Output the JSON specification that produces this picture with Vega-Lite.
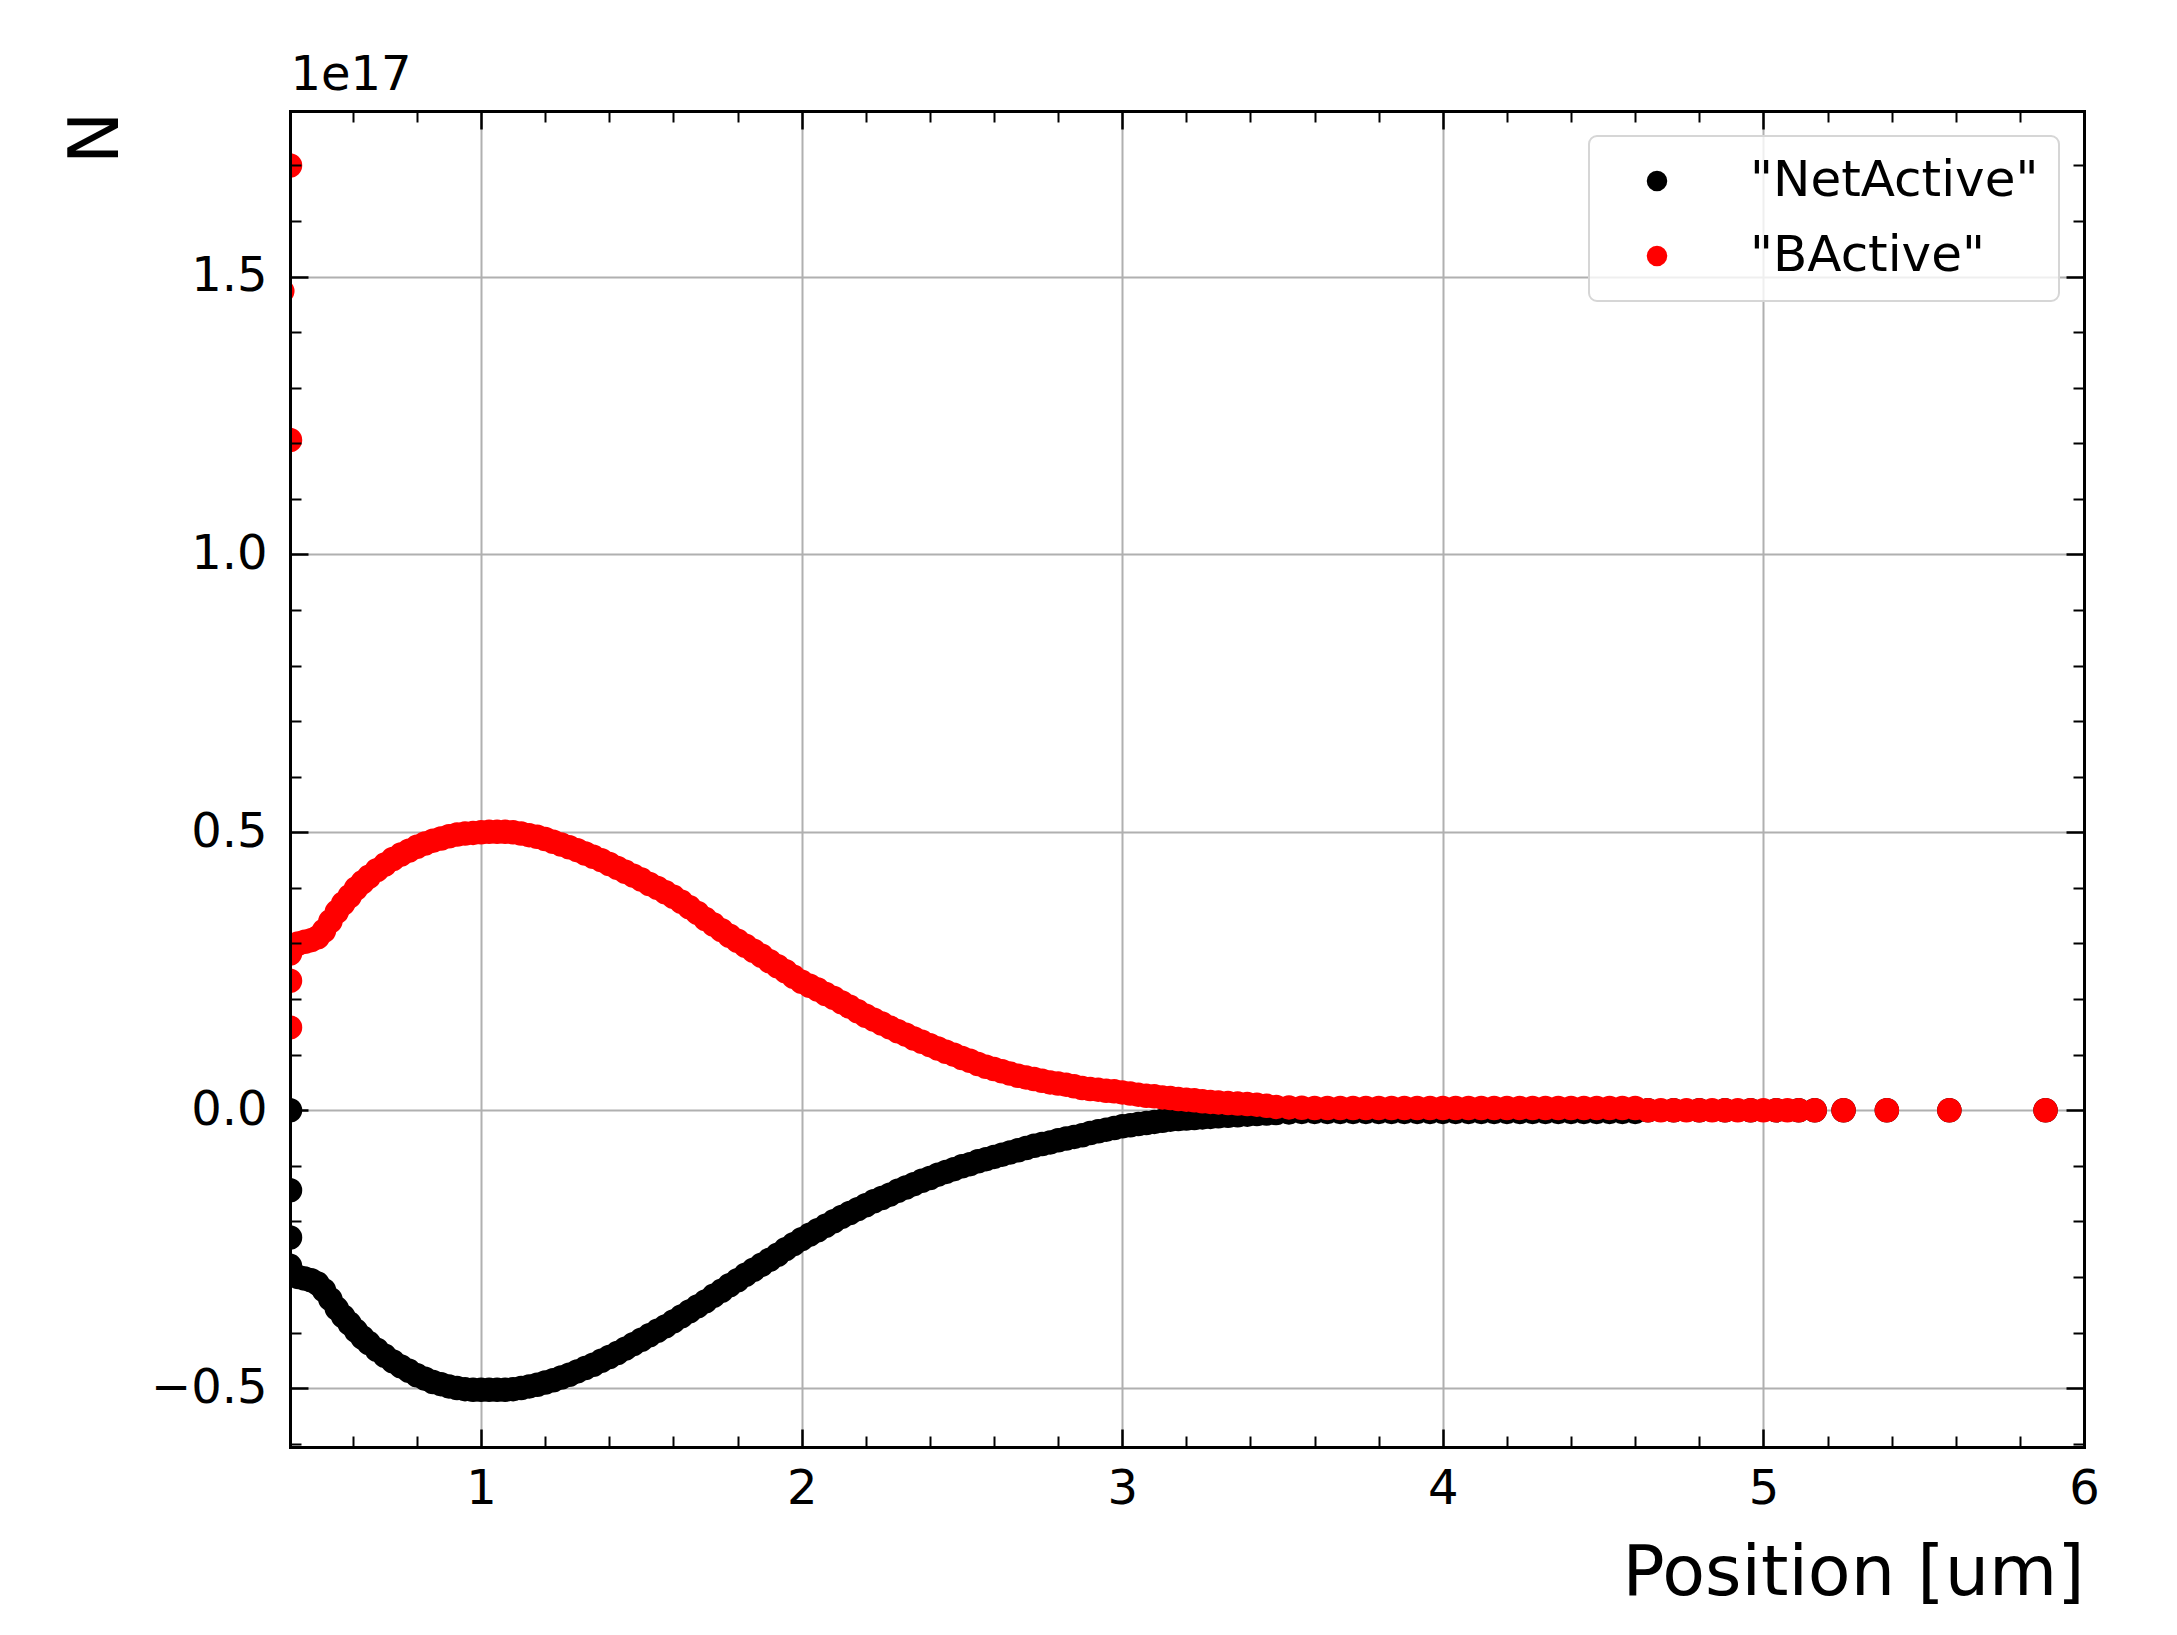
{
  "$schema": "https://vega.github.io/schema/vega-lite/v6.json",
  "width": 1794,
  "height": 1336,
  "autosize": {"type": "none"},
  "padding": {"left": 290, "top": 111, "right": 93, "bottom": 188},
  "background": "white",
  "config": {
    "view": {"stroke": null},
    "font": "DejaVu Sans",
    "axis": {
      "labelFont": "DejaVu Sans", "titleFont": "DejaVu Sans",
      "tickColor": "black", "domainColor": "black", "labelColor": "black", "titleColor": "black",
      "titleFontWeight": "normal", "gridColor": "#b0b0b0", "gridWidth": 2, "gridOpacity": 1,
      "domainWidth": 3, "domainCap": "square", "labelFlush": false, "labelOverlap": false,
      "minExtent": 0, "maxExtent": 400
    },
    "legend": {
      "orient": "top-right", "offset": 25, "fillColor": "rgba(255,255,255,0.8)",
      "strokeColor": "#d6d6d6", "strokeWidth": 2, "cornerRadius": 8, "padding": 20,
      "symbolType": "circle", "symbolSize": 420, "symbolStrokeWidth": 0, "symbolOffset": 23,
      "labelOffset": 68, "labelFont": "DejaVu Sans", "labelFontSize": 50, "labelColor": "black",
      "labelLimit": 600, "rowPadding": 25
    }
  },
  "resolve": {"axis": {"x": "independent", "y": "independent"}},
  "layer": [
    {
      "data": {"values": [
        {"pos":0.404,"N":0,"series":"NetActive"},
        {"pos":0.404,"N":-1.44e16,"series":"NetActive"},
        {"pos":0.404,"N":-2.29e16,"series":"NetActive"},
        {"pos":0.404,"N":-2.80e16,"series":"NetActive"},
        {"pos":0.41,"N":-2.93e16,"series":"NetActive"},
        {"pos":0.43,"N":-3.00e16,"series":"NetActive"},
        {"pos":0.45,"N":-3.03e16,"series":"NetActive"},
        {"pos":0.47,"N":-3.06e16,"series":"NetActive"},
        {"pos":0.49,"N":-3.12e16,"series":"NetActive"},
        {"pos":0.51,"N":-3.24e16,"series":"NetActive"},
        {"pos":0.53,"N":-3.40e16,"series":"NetActive"},
        {"pos":0.55,"N":-3.57e16,"series":"NetActive"},
        {"pos":0.57,"N":-3.71e16,"series":"NetActive"},
        {"pos":0.59,"N":-3.84e16,"series":"NetActive"},
        {"pos":0.61,"N":-3.97e16,"series":"NetActive"},
        {"pos":0.63,"N":-4.09e16,"series":"NetActive"},
        {"pos":0.65,"N":-4.19e16,"series":"NetActive"},
        {"pos":0.675,"N":-4.31e16,"series":"NetActive"},
        {"pos":0.70,"N":-4.42e16,"series":"NetActive"},
        {"pos":0.725,"N":-4.52e16,"series":"NetActive"},
        {"pos":0.75,"N":-4.61e16,"series":"NetActive"},
        {"pos":0.775,"N":-4.69e16,"series":"NetActive"},
        {"pos":0.80,"N":-4.77e16,"series":"NetActive"},
        {"pos":0.825,"N":-4.83e16,"series":"NetActive"},
        {"pos":0.85,"N":-4.89e16,"series":"NetActive"},
        {"pos":0.875,"N":-4.93e16,"series":"NetActive"},
        {"pos":0.90,"N":-4.97e16,"series":"NetActive"},
        {"pos":0.925,"N":-5.00e16,"series":"NetActive"},
        {"pos":0.95,"N":-5.02e16,"series":"NetActive"},
        {"pos":0.975,"N":-5.03e16,"series":"NetActive"},
        {"pos":1.0,"N":-5.03e16,"series":"NetActive"},
        {"pos":1.025,"N":-5.03e16,"series":"NetActive"},
        {"pos":1.05,"N":-5.03e16,"series":"NetActive"},
        {"pos":1.075,"N":-5.03e16,"series":"NetActive"},
        {"pos":1.10,"N":-5.02e16,"series":"NetActive"},
        {"pos":1.125,"N":-5.00e16,"series":"NetActive"},
        {"pos":1.15,"N":-4.97e16,"series":"NetActive"},
        {"pos":1.175,"N":-4.94e16,"series":"NetActive"},
        {"pos":1.20,"N":-4.90e16,"series":"NetActive"},
        {"pos":1.225,"N":-4.86e16,"series":"NetActive"},
        {"pos":1.25,"N":-4.81e16,"series":"NetActive"},
        {"pos":1.275,"N":-4.76e16,"series":"NetActive"},
        {"pos":1.30,"N":-4.70e16,"series":"NetActive"},
        {"pos":1.325,"N":-4.64e16,"series":"NetActive"},
        {"pos":1.35,"N":-4.58e16,"series":"NetActive"},
        {"pos":1.375,"N":-4.51e16,"series":"NetActive"},
        {"pos":1.40,"N":-4.44e16,"series":"NetActive"},
        {"pos":1.425,"N":-4.37e16,"series":"NetActive"},
        {"pos":1.45,"N":-4.29e16,"series":"NetActive"},
        {"pos":1.475,"N":-4.21e16,"series":"NetActive"},
        {"pos":1.50,"N":-4.13e16,"series":"NetActive"},
        {"pos":1.525,"N":-4.05e16,"series":"NetActive"},
        {"pos":1.55,"N":-3.97e16,"series":"NetActive"},
        {"pos":1.575,"N":-3.89e16,"series":"NetActive"},
        {"pos":1.60,"N":-3.80e16,"series":"NetActive"},
        {"pos":1.625,"N":-3.71e16,"series":"NetActive"},
        {"pos":1.65,"N":-3.62e16,"series":"NetActive"},
        {"pos":1.675,"N":-3.53e16,"series":"NetActive"},
        {"pos":1.70,"N":-3.44e16,"series":"NetActive"},
        {"pos":1.725,"N":-3.34e16,"series":"NetActive"},
        {"pos":1.75,"N":-3.25e16,"series":"NetActive"},
        {"pos":1.775,"N":-3.15e16,"series":"NetActive"},
        {"pos":1.80,"N":-3.06e16,"series":"NetActive"},
        {"pos":1.825,"N":-2.96e16,"series":"NetActive"},
        {"pos":1.85,"N":-2.87e16,"series":"NetActive"},
        {"pos":1.875,"N":-2.78e16,"series":"NetActive"},
        {"pos":1.90,"N":-2.69e16,"series":"NetActive"},
        {"pos":1.925,"N":-2.60e16,"series":"NetActive"},
        {"pos":1.95,"N":-2.50e16,"series":"NetActive"},
        {"pos":1.975,"N":-2.41e16,"series":"NetActive"},
        {"pos":2.0,"N":-2.32e16,"series":"NetActive"},
        {"pos":2.025,"N":-2.24e16,"series":"NetActive"},
        {"pos":2.05,"N":-2.16e16,"series":"NetActive"},
        {"pos":2.075,"N":-2.08e16,"series":"NetActive"},
        {"pos":2.10,"N":-2.00e16,"series":"NetActive"},
        {"pos":2.125,"N":-1.92e16,"series":"NetActive"},
        {"pos":2.15,"N":-1.85e16,"series":"NetActive"},
        {"pos":2.175,"N":-1.78e16,"series":"NetActive"},
        {"pos":2.20,"N":-1.71e16,"series":"NetActive"},
        {"pos":2.225,"N":-1.64e16,"series":"NetActive"},
        {"pos":2.25,"N":-1.58e16,"series":"NetActive"},
        {"pos":2.275,"N":-1.52e16,"series":"NetActive"},
        {"pos":2.30,"N":-1.45e16,"series":"NetActive"},
        {"pos":2.325,"N":-1.39e16,"series":"NetActive"},
        {"pos":2.35,"N":-1.33e16,"series":"NetActive"},
        {"pos":2.375,"N":-1.27e16,"series":"NetActive"},
        {"pos":2.40,"N":-1.22e16,"series":"NetActive"},
        {"pos":2.425,"N":-1.16e16,"series":"NetActive"},
        {"pos":2.45,"N":-1.11e16,"series":"NetActive"},
        {"pos":2.475,"N":-1.06e16,"series":"NetActive"},
        {"pos":2.50,"N":-1.01e16,"series":"NetActive"},
        {"pos":2.525,"N":-9.7e15,"series":"NetActive"},
        {"pos":2.55,"N":-9.2e15,"series":"NetActive"},
        {"pos":2.575,"N":-8.8e15,"series":"NetActive"},
        {"pos":2.60,"N":-8.4e15,"series":"NetActive"},
        {"pos":2.625,"N":-8.0e15,"series":"NetActive"},
        {"pos":2.65,"N":-7.6e15,"series":"NetActive"},
        {"pos":2.675,"N":-7.2e15,"series":"NetActive"},
        {"pos":2.70,"N":-6.8e15,"series":"NetActive"},
        {"pos":2.725,"N":-6.4e15,"series":"NetActive"},
        {"pos":2.75,"N":-6.1e15,"series":"NetActive"},
        {"pos":2.775,"N":-5.8e15,"series":"NetActive"},
        {"pos":2.80,"N":-5.4e15,"series":"NetActive"},
        {"pos":2.825,"N":-5.1e15,"series":"NetActive"},
        {"pos":2.85,"N":-4.8e15,"series":"NetActive"},
        {"pos":2.875,"N":-4.5e15,"series":"NetActive"},
        {"pos":2.90,"N":-4.1e15,"series":"NetActive"},
        {"pos":2.925,"N":-3.8e15,"series":"NetActive"},
        {"pos":2.95,"N":-3.5e15,"series":"NetActive"},
        {"pos":2.975,"N":-3.2e15,"series":"NetActive"},
        {"pos":3.0,"N":-2.9e15,"series":"NetActive"},
        {"pos":3.025,"N":-2.7e15,"series":"NetActive"},
        {"pos":3.05,"N":-2.5e15,"series":"NetActive"},
        {"pos":3.075,"N":-2.3e15,"series":"NetActive"},
        {"pos":3.10,"N":-2.1e15,"series":"NetActive"},
        {"pos":3.125,"N":-1.9e15,"series":"NetActive"},
        {"pos":3.15,"N":-1.7e15,"series":"NetActive"},
        {"pos":3.175,"N":-1.6e15,"series":"NetActive"},
        {"pos":3.20,"N":-1.5e15,"series":"NetActive"},
        {"pos":3.225,"N":-1.4e15,"series":"NetActive"},
        {"pos":3.25,"N":-1.3e15,"series":"NetActive"},
        {"pos":3.275,"N":-1.2e15,"series":"NetActive"},
        {"pos":3.30,"N":-1.1e15,"series":"NetActive"},
        {"pos":3.33,"N":-1.0e15,"series":"NetActive"},
        {"pos":3.36,"N":-9e14,"series":"NetActive"},
        {"pos":3.39,"N":-8e14,"series":"NetActive"},
        {"pos":3.42,"N":-7e14,"series":"NetActive"},
        {"pos":3.45,"N":-6e14,"series":"NetActive"},
        {"pos":3.48,"N":-5e14,"series":"NetActive"},
        {"pos":3.52,"N":-4e14,"series":"NetActive"},
        {"pos":3.56,"N":-3e14,"series":"NetActive"},
        {"pos":3.60,"N":-3e14,"series":"NetActive"},
        {"pos":3.64,"N":-3e14,"series":"NetActive"},
        {"pos":3.68,"N":-3e14,"series":"NetActive"},
        {"pos":3.72,"N":-3e14,"series":"NetActive"},
        {"pos":3.76,"N":-3e14,"series":"NetActive"},
        {"pos":3.80,"N":-3e14,"series":"NetActive"},
        {"pos":3.84,"N":-3e14,"series":"NetActive"},
        {"pos":3.88,"N":-3e14,"series":"NetActive"},
        {"pos":3.92,"N":-3e14,"series":"NetActive"},
        {"pos":3.96,"N":-3e14,"series":"NetActive"},
        {"pos":4.00,"N":-3e14,"series":"NetActive"},
        {"pos":4.04,"N":-3e14,"series":"NetActive"},
        {"pos":4.08,"N":-3e14,"series":"NetActive"},
        {"pos":4.12,"N":-3e14,"series":"NetActive"},
        {"pos":4.16,"N":-3e14,"series":"NetActive"},
        {"pos":4.20,"N":-3e14,"series":"NetActive"},
        {"pos":4.24,"N":-3e14,"series":"NetActive"},
        {"pos":4.28,"N":-3e14,"series":"NetActive"},
        {"pos":4.32,"N":-3e14,"series":"NetActive"},
        {"pos":4.36,"N":-3e14,"series":"NetActive"},
        {"pos":4.40,"N":-3e14,"series":"NetActive"},
        {"pos":4.44,"N":-3e14,"series":"NetActive"},
        {"pos":4.48,"N":-3e14,"series":"NetActive"},
        {"pos":4.52,"N":-3e14,"series":"NetActive"},
        {"pos":4.56,"N":-3e14,"series":"NetActive"},
        {"pos":4.60,"N":-3e14,"series":"NetActive"},
        {"pos":4.64,"N":0,"series":"NetActive"},
        {"pos":4.72,"N":0,"series":"NetActive"},
        {"pos":4.80,"N":0,"series":"NetActive"},
        {"pos":4.88,"N":0,"series":"NetActive"},
        {"pos":4.96,"N":0,"series":"NetActive"},
        {"pos":5.04,"N":0,"series":"NetActive"},
        {"pos":5.11,"N":0,"series":"NetActive"},
        {"pos":5.16,"N":0,"series":"NetActive"},
        {"pos":5.25,"N":0,"series":"NetActive"},
        {"pos":5.385,"N":0,"series":"NetActive"},
        {"pos":5.58,"N":0,"series":"NetActive"},
        {"pos":5.88,"N":0,"series":"NetActive"},
        {"pos":0.38,"N":1.474e17,"series":"BActive"},
        {"pos":0.404,"N":1.70e17,"series":"BActive"},
        {"pos":0.404,"N":1.206e17,"series":"BActive"},
        {"pos":0.404,"N":2.33e16,"series":"BActive"},
        {"pos":0.404,"N":1.49e16,"series":"BActive"},
        {"pos":0.404,"N":2.82e16,"series":"BActive"},
        {"pos":0.41,"N":2.95e16,"series":"BActive"},
        {"pos":0.43,"N":3.00e16,"series":"BActive"},
        {"pos":0.45,"N":3.03e16,"series":"BActive"},
        {"pos":0.47,"N":3.06e16,"series":"BActive"},
        {"pos":0.49,"N":3.11e16,"series":"BActive"},
        {"pos":0.51,"N":3.23e16,"series":"BActive"},
        {"pos":0.53,"N":3.40e16,"series":"BActive"},
        {"pos":0.55,"N":3.57e16,"series":"BActive"},
        {"pos":0.57,"N":3.72e16,"series":"BActive"},
        {"pos":0.59,"N":3.85e16,"series":"BActive"},
        {"pos":0.61,"N":3.99e16,"series":"BActive"},
        {"pos":0.63,"N":4.10e16,"series":"BActive"},
        {"pos":0.65,"N":4.20e16,"series":"BActive"},
        {"pos":0.675,"N":4.32e16,"series":"BActive"},
        {"pos":0.70,"N":4.42e16,"series":"BActive"},
        {"pos":0.725,"N":4.52e16,"series":"BActive"},
        {"pos":0.75,"N":4.60e16,"series":"BActive"},
        {"pos":0.775,"N":4.67e16,"series":"BActive"},
        {"pos":0.80,"N":4.74e16,"series":"BActive"},
        {"pos":0.825,"N":4.80e16,"series":"BActive"},
        {"pos":0.85,"N":4.85e16,"series":"BActive"},
        {"pos":0.875,"N":4.89e16,"series":"BActive"},
        {"pos":0.90,"N":4.93e16,"series":"BActive"},
        {"pos":0.925,"N":4.96e16,"series":"BActive"},
        {"pos":0.95,"N":4.98e16,"series":"BActive"},
        {"pos":0.975,"N":4.99e16,"series":"BActive"},
        {"pos":1.0,"N":5.00e16,"series":"BActive"},
        {"pos":1.025,"N":5.01e16,"series":"BActive"},
        {"pos":1.05,"N":5.01e16,"series":"BActive"},
        {"pos":1.075,"N":5.01e16,"series":"BActive"},
        {"pos":1.10,"N":5.00e16,"series":"BActive"},
        {"pos":1.125,"N":4.98e16,"series":"BActive"},
        {"pos":1.15,"N":4.95e16,"series":"BActive"},
        {"pos":1.175,"N":4.92e16,"series":"BActive"},
        {"pos":1.20,"N":4.88e16,"series":"BActive"},
        {"pos":1.225,"N":4.83e16,"series":"BActive"},
        {"pos":1.25,"N":4.78e16,"series":"BActive"},
        {"pos":1.275,"N":4.73e16,"series":"BActive"},
        {"pos":1.30,"N":4.68e16,"series":"BActive"},
        {"pos":1.325,"N":4.62e16,"series":"BActive"},
        {"pos":1.35,"N":4.56e16,"series":"BActive"},
        {"pos":1.375,"N":4.50e16,"series":"BActive"},
        {"pos":1.40,"N":4.43e16,"series":"BActive"},
        {"pos":1.425,"N":4.36e16,"series":"BActive"},
        {"pos":1.45,"N":4.29e16,"series":"BActive"},
        {"pos":1.475,"N":4.22e16,"series":"BActive"},
        {"pos":1.50,"N":4.15e16,"series":"BActive"},
        {"pos":1.525,"N":4.07e16,"series":"BActive"},
        {"pos":1.55,"N":4.00e16,"series":"BActive"},
        {"pos":1.575,"N":3.92e16,"series":"BActive"},
        {"pos":1.60,"N":3.84e16,"series":"BActive"},
        {"pos":1.625,"N":3.75e16,"series":"BActive"},
        {"pos":1.65,"N":3.65e16,"series":"BActive"},
        {"pos":1.675,"N":3.55e16,"series":"BActive"},
        {"pos":1.70,"N":3.44e16,"series":"BActive"},
        {"pos":1.725,"N":3.34e16,"series":"BActive"},
        {"pos":1.75,"N":3.24e16,"series":"BActive"},
        {"pos":1.775,"N":3.14e16,"series":"BActive"},
        {"pos":1.80,"N":3.05e16,"series":"BActive"},
        {"pos":1.825,"N":2.96e16,"series":"BActive"},
        {"pos":1.85,"N":2.87e16,"series":"BActive"},
        {"pos":1.875,"N":2.78e16,"series":"BActive"},
        {"pos":1.90,"N":2.68e16,"series":"BActive"},
        {"pos":1.925,"N":2.59e16,"series":"BActive"},
        {"pos":1.95,"N":2.50e16,"series":"BActive"},
        {"pos":1.975,"N":2.40e16,"series":"BActive"},
        {"pos":2.0,"N":2.31e16,"series":"BActive"},
        {"pos":2.025,"N":2.24e16,"series":"BActive"},
        {"pos":2.05,"N":2.17e16,"series":"BActive"},
        {"pos":2.075,"N":2.09e16,"series":"BActive"},
        {"pos":2.10,"N":2.02e16,"series":"BActive"},
        {"pos":2.125,"N":1.94e16,"series":"BActive"},
        {"pos":2.15,"N":1.86e16,"series":"BActive"},
        {"pos":2.175,"N":1.78e16,"series":"BActive"},
        {"pos":2.20,"N":1.70e16,"series":"BActive"},
        {"pos":2.225,"N":1.63e16,"series":"BActive"},
        {"pos":2.25,"N":1.56e16,"series":"BActive"},
        {"pos":2.275,"N":1.49e16,"series":"BActive"},
        {"pos":2.30,"N":1.42e16,"series":"BActive"},
        {"pos":2.325,"N":1.36e16,"series":"BActive"},
        {"pos":2.35,"N":1.29e16,"series":"BActive"},
        {"pos":2.375,"N":1.23e16,"series":"BActive"},
        {"pos":2.40,"N":1.17e16,"series":"BActive"},
        {"pos":2.425,"N":1.11e16,"series":"BActive"},
        {"pos":2.45,"N":1.05e16,"series":"BActive"},
        {"pos":2.475,"N":1.00e16,"series":"BActive"},
        {"pos":2.50,"N":9.4e15,"series":"BActive"},
        {"pos":2.525,"N":8.9e15,"series":"BActive"},
        {"pos":2.55,"N":8.3e15,"series":"BActive"},
        {"pos":2.575,"N":7.8e15,"series":"BActive"},
        {"pos":2.60,"N":7.4e15,"series":"BActive"},
        {"pos":2.625,"N":7.0e15,"series":"BActive"},
        {"pos":2.65,"N":6.6e15,"series":"BActive"},
        {"pos":2.675,"N":6.2e15,"series":"BActive"},
        {"pos":2.70,"N":5.9e15,"series":"BActive"},
        {"pos":2.725,"N":5.6e15,"series":"BActive"},
        {"pos":2.75,"N":5.3e15,"series":"BActive"},
        {"pos":2.775,"N":5.0e15,"series":"BActive"},
        {"pos":2.80,"N":4.8e15,"series":"BActive"},
        {"pos":2.825,"N":4.6e15,"series":"BActive"},
        {"pos":2.85,"N":4.3e15,"series":"BActive"},
        {"pos":2.875,"N":4.0e15,"series":"BActive"},
        {"pos":2.90,"N":3.8e15,"series":"BActive"},
        {"pos":2.925,"N":3.7e15,"series":"BActive"},
        {"pos":2.95,"N":3.5e15,"series":"BActive"},
        {"pos":2.975,"N":3.4e15,"series":"BActive"},
        {"pos":3.0,"N":3.2e15,"series":"BActive"},
        {"pos":3.025,"N":3.0e15,"series":"BActive"},
        {"pos":3.05,"N":2.8e15,"series":"BActive"},
        {"pos":3.075,"N":2.6e15,"series":"BActive"},
        {"pos":3.10,"N":2.5e15,"series":"BActive"},
        {"pos":3.125,"N":2.3e15,"series":"BActive"},
        {"pos":3.15,"N":2.2e15,"series":"BActive"},
        {"pos":3.175,"N":2.0e15,"series":"BActive"},
        {"pos":3.20,"N":1.9e15,"series":"BActive"},
        {"pos":3.225,"N":1.8e15,"series":"BActive"},
        {"pos":3.25,"N":1.6e15,"series":"BActive"},
        {"pos":3.275,"N":1.5e15,"series":"BActive"},
        {"pos":3.30,"N":1.4e15,"series":"BActive"},
        {"pos":3.33,"N":1.3e15,"series":"BActive"},
        {"pos":3.36,"N":1.2e15,"series":"BActive"},
        {"pos":3.39,"N":1.1e15,"series":"BActive"},
        {"pos":3.42,"N":1.0e15,"series":"BActive"},
        {"pos":3.45,"N":8e14,"series":"BActive"},
        {"pos":3.48,"N":6e14,"series":"BActive"},
        {"pos":3.52,"N":5e14,"series":"BActive"},
        {"pos":3.56,"N":4.5e14,"series":"BActive"},
        {"pos":3.60,"N":4e14,"series":"BActive"},
        {"pos":3.64,"N":4e14,"series":"BActive"},
        {"pos":3.68,"N":4e14,"series":"BActive"},
        {"pos":3.72,"N":4e14,"series":"BActive"},
        {"pos":3.76,"N":4e14,"series":"BActive"},
        {"pos":3.80,"N":4e14,"series":"BActive"},
        {"pos":3.84,"N":4e14,"series":"BActive"},
        {"pos":3.88,"N":4e14,"series":"BActive"},
        {"pos":3.92,"N":4e14,"series":"BActive"},
        {"pos":3.96,"N":4e14,"series":"BActive"},
        {"pos":4.00,"N":4e14,"series":"BActive"},
        {"pos":4.04,"N":4e14,"series":"BActive"},
        {"pos":4.08,"N":4e14,"series":"BActive"},
        {"pos":4.12,"N":4e14,"series":"BActive"},
        {"pos":4.16,"N":4e14,"series":"BActive"},
        {"pos":4.20,"N":4e14,"series":"BActive"},
        {"pos":4.24,"N":4e14,"series":"BActive"},
        {"pos":4.28,"N":4e14,"series":"BActive"},
        {"pos":4.32,"N":4e14,"series":"BActive"},
        {"pos":4.36,"N":4e14,"series":"BActive"},
        {"pos":4.40,"N":4e14,"series":"BActive"},
        {"pos":4.44,"N":4e14,"series":"BActive"},
        {"pos":4.48,"N":4e14,"series":"BActive"},
        {"pos":4.52,"N":4e14,"series":"BActive"},
        {"pos":4.56,"N":4e14,"series":"BActive"},
        {"pos":4.60,"N":4e14,"series":"BActive"},
        {"pos":4.64,"N":0,"series":"BActive"},
        {"pos":4.68,"N":0,"series":"BActive"},
        {"pos":4.72,"N":0,"series":"BActive"},
        {"pos":4.76,"N":0,"series":"BActive"},
        {"pos":4.80,"N":0,"series":"BActive"},
        {"pos":4.84,"N":0,"series":"BActive"},
        {"pos":4.88,"N":0,"series":"BActive"},
        {"pos":4.92,"N":0,"series":"BActive"},
        {"pos":4.96,"N":0,"series":"BActive"},
        {"pos":5.00,"N":0,"series":"BActive"},
        {"pos":5.04,"N":0,"series":"BActive"},
        {"pos":5.075,"N":0,"series":"BActive"},
        {"pos":5.11,"N":0,"series":"BActive"},
        {"pos":5.16,"N":0,"series":"BActive"},
        {"pos":5.25,"N":0,"series":"BActive"},
        {"pos":5.385,"N":0,"series":"BActive"},
        {"pos":5.58,"N":0,"series":"BActive"},
        {"pos":5.88,"N":0,"series":"BActive"}
      ]},
      "mark": {"type": "circle", "size": 600, "opacity": 1, "strokeWidth": 0, "clip": true},
      "encoding": {
        "x": {
          "field": "pos", "type": "quantitative",
          "scale": {"domain": [0.404, 6.0], "nice": false, "zero": false},
          "axis": {
            "orient": "bottom", "values": [1, 2, 3, 4, 5, 6], "format": "d",
            "grid": true, "domain": false, "ticks": true, "tickSize": -18, "tickWidth": 2.5,
            "labels": true, "labelFontSize": 48, "labelPadding": 36,
            "title": "Position [um]", "titleFontSize": 70, "titleAnchor": "end", "titlePadding": 26,
            "zindex": 0
          }
        },
        "y": {
          "field": "N", "type": "quantitative",
          "scale": {"domain": [-6.06e16, 1.798e17], "nice": false, "zero": false},
          "axis": {
            "orient": "left", "values": [-5e16, 0, 5e16, 1e17, 1.5e17],
            "labelExpr": "format(datum.value / 1e17, '.1f')",
            "grid": true, "domain": false, "ticks": true, "tickSize": -18, "tickWidth": 2.5,
            "labels": true, "labelFontSize": 48, "labelPadding": 41,
            "title": "N", "titleFontSize": 70, "titleAnchor": "end", "titlePadding": 18,
            "zindex": 0
          }
        },
        "color": {
          "field": "series", "type": "nominal",
          "scale": {"domain": ["NetActive", "BActive"], "range": ["#000000", "#ff0000"]},
          "legend": {"title": null, "labelExpr": "'\"' + datum.label + '\"'"}
        }
      }
    },
    {
      "data": {"values": [{"pos": 3, "N": 0}]},
      "mark": {"type": "point", "opacity": 0},
      "encoding": {
        "x": {
          "field": "pos", "type": "quantitative",
          "scale": {"domain": [0.404, 6.0], "nice": false, "zero": false},
          "axis": {
            "orient": "bottom", "values": [0.6, 0.8, 1.2, 1.4, 1.6, 1.8, 2.2, 2.4, 2.6, 2.8, 3.2, 3.4, 3.6, 3.8, 4.2, 4.4, 4.6, 4.8, 5.2, 5.4, 5.6, 5.8],
            "grid": false, "domain": true, "ticks": true, "tickSize": -11, "tickWidth": 2,
            "labels": false, "title": null, "zindex": 1
          }
        },
        "y": {
          "field": "N", "type": "quantitative",
          "scale": {"domain": [-6.06e16, 1.798e17], "nice": false, "zero": false},
          "axis": {
            "orient": "left", "values": [-6e16, -4e16, -3e16, -2e16, -1e16, 1e16, 2e16, 3e16, 4e16, 6e16, 7e16, 8e16, 9e16, 1.1e17, 1.2e17, 1.3e17, 1.4e17, 1.6e17, 1.7e17],
            "grid": false, "domain": true, "ticks": true, "tickSize": -11, "tickWidth": 2,
            "labels": false, "title": null, "zindex": 1
          }
        }
      }
    },
    {
      "data": {"values": [{"pos": 3, "N": 0}]},
      "mark": {"type": "point", "opacity": 0},
      "encoding": {
        "x": {
          "field": "pos", "type": "quantitative",
          "scale": {"domain": [0.404, 6.0], "nice": false, "zero": false},
          "axis": {
            "orient": "top", "values": [1, 2, 3, 4, 5, 6],
            "grid": false, "domain": true, "ticks": true, "tickSize": -18, "tickWidth": 2.5,
            "labels": false, "title": "1e17", "titleFontSize": 48, "titleAnchor": "start",
            "titleAlign": "left", "titlePadding": 10, "zindex": 1
          }
        },
        "y": {
          "field": "N", "type": "quantitative",
          "scale": {"domain": [-6.06e16, 1.798e17], "nice": false, "zero": false},
          "axis": {
            "orient": "right", "values": [-5e16, 0, 5e16, 1e17, 1.5e17],
            "grid": false, "domain": true, "ticks": true, "tickSize": -18, "tickWidth": 2.5,
            "labels": false, "title": null, "zindex": 1
          }
        }
      }
    },
    {
      "data": {"values": [{"pos": 3, "N": 0}]},
      "mark": {"type": "point", "opacity": 0},
      "encoding": {
        "x": {
          "field": "pos", "type": "quantitative",
          "scale": {"domain": [0.404, 6.0], "nice": false, "zero": false},
          "axis": {
            "orient": "top", "values": [0.6, 0.8, 1.2, 1.4, 1.6, 1.8, 2.2, 2.4, 2.6, 2.8, 3.2, 3.4, 3.6, 3.8, 4.2, 4.4, 4.6, 4.8, 5.2, 5.4, 5.6, 5.8],
            "grid": false, "domain": false, "ticks": true, "tickSize": -11, "tickWidth": 2,
            "labels": false, "title": null, "zindex": 1
          }
        },
        "y": {
          "field": "N", "type": "quantitative",
          "scale": {"domain": [-6.06e16, 1.798e17], "nice": false, "zero": false},
          "axis": {
            "orient": "right", "values": [-6e16, -4e16, -3e16, -2e16, -1e16, 1e16, 2e16, 3e16, 4e16, 6e16, 7e16, 8e16, 9e16, 1.1e17, 1.2e17, 1.3e17, 1.4e17, 1.6e17, 1.7e17],
            "grid": false, "domain": false, "ticks": true, "tickSize": -11, "tickWidth": 2,
            "labels": false, "title": null, "zindex": 1
          }
        }
      }
    }
  ]
}
